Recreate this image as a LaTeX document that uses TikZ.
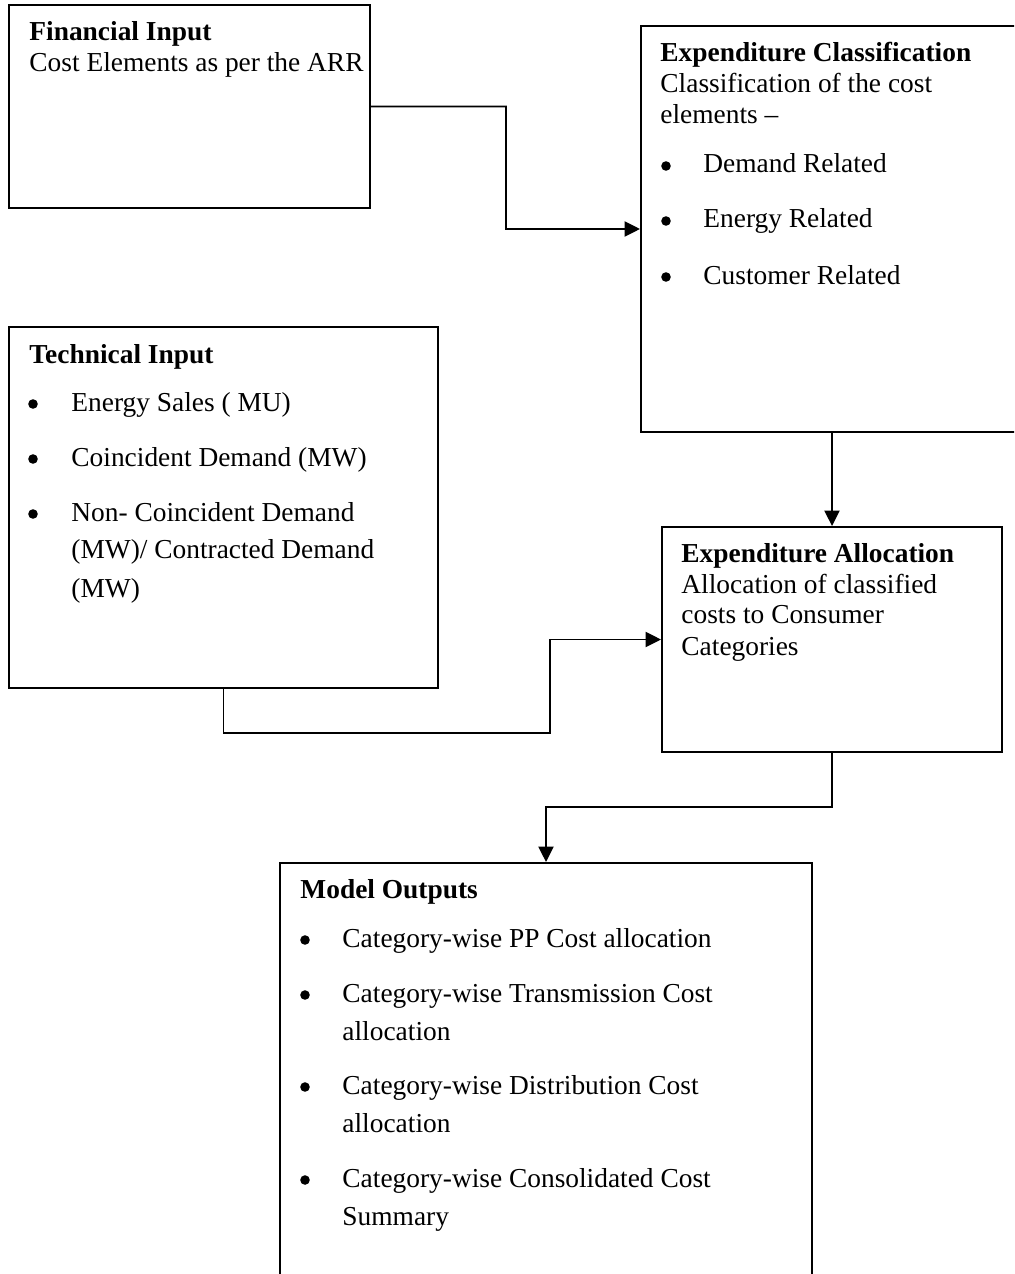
\documentclass[tikz,border=0pt]{standalone}
\usepackage{fontspec}
\setmainfont{Liberation Serif}
\usetikzlibrary{fit,arrows.meta}
\begin{document}
\begin{tikzpicture}[x=0.438pt,y=-0.438pt,
  box/.style={draw=black,line width=0.85pt,inner sep=0pt,fill=none},
  conn/.style={draw=black,line width=0.85pt,-{Triangle[length=6.8pt,width=6.6pt]}},
  txt/.style={inner sep=0pt,anchor=base west,font=\fontsize{12pt}{14pt}\selectfont},
  ttl/.style={txt,font=\fontsize{12pt}{14pt}\selectfont\bfseries},
  bul/.style={circle,fill=black,inner sep=0pt,minimum size=4.2pt}]
\useasboundingbox (0,0) rectangle (1014,1274);
\clip (0,0) rectangle (1014,1274);
% boxes
\node[box,fit={(9,5) (370,208)}] (fin) {};
\node[box,fit={(641,26) (1023,432)}] (cls) {};
\node[box,fit={(9,327) (438,688)}] (tech) {};
\node[box,fit={(662,527) (1002,752)}] (alloc) {};
\node[box,fit={(280,863) (812,1300)}] (out) {};
% Financial Input
\node[ttl] (f1) at (29,41) {Financial Input};
\node[txt] (f2) at (29,72) {Cost Elements as per the ARR};
% Expenditure Classification
\node[ttl] (c1) at (660,62) {Expenditure Classification};
\node[txt] (c2) at (660,93) {Classification of the cost};
\node[txt] (c3) at (660,124) {elements –};
\node[bul] (cb1) at (666,166) {};
\node[txt] (c4) at (703,173) {Demand Related};
\node[bul] (cb2) at (666,221) {};
\node[txt] (c5) at (703,228) {Energy Related};
\node[bul] (cb3) at (666,277) {};
\node[txt] (c6) at (703,284) {Customer Related};
% Technical Input
\node[ttl] (t1) at (29,363) {Technical Input};
\node[bul] (tb1) at (33,404) {};
\node[txt] (t2) at (71,411) {Energy Sales ( MU)};
\node[bul] (tb2) at (33,459) {};
\node[txt] (t3) at (71,466) {Coincident Demand (MW)};
\node[bul] (tb3) at (33,514) {};
\node[txt] (t4) at (71,521) {Non- Coincident Demand};
\node[txt] (t5) at (71,558) {(MW)/ Contracted Demand};
\node[txt] (t6) at (71,597) {(MW)};
% Expenditure Allocation
\node[ttl] (a1) at (681,562) {Expenditure Allocation};
\node[txt] (a2) at (681,593) {Allocation of classified};
\node[txt] (a3) at (681,623) {costs to Consumer};
\node[txt] (a4) at (681,655) {Categories};
% Model Outputs
\node[ttl] (o1) at (300,898) {Model Outputs};
\node[bul] (ob1) at (305,940) {};
\node[txt] (o2) at (342,947) {Category-wise PP Cost allocation};
\node[bul] (ob2) at (305,995) {};
\node[txt] (o3) at (342,1002) {Category-wise Transmission Cost};
\node[txt] (o4) at (342,1040) {allocation};
\node[bul] (ob3) at (305,1087) {};
\node[txt] (o5) at (342,1094) {Category-wise Distribution Cost};
\node[txt] (o6) at (342,1132) {allocation};
\node[bul] (ob4) at (305,1180) {};
\node[txt] (o7) at (342,1187) {Category-wise Consolidated Cost};
\node[txt] (o8) at (342,1225) {Summary};
% connectors
\draw[conn] (fin.east) -- (506,106.5) |- (cls.west);
\draw[conn] (cls.south) -- (alloc.north);
\draw[conn] (tech.south) |- (550,733) |- (alloc.west);
\draw[conn] (alloc.south) |- (546,807) -- (out.north);
\end{tikzpicture}
\end{document}
